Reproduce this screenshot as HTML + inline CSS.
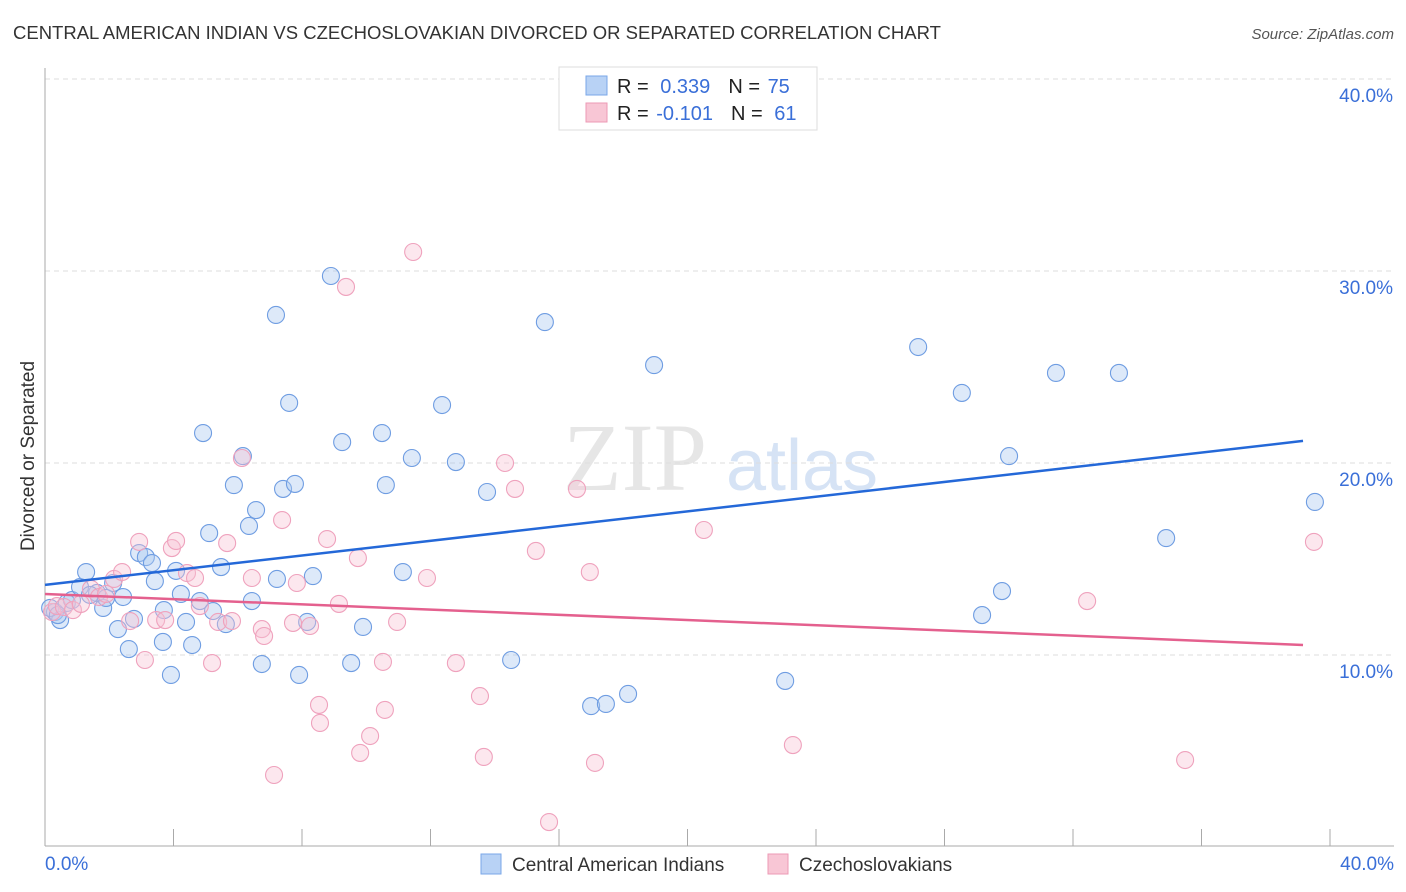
<!DOCTYPE html>
<html><head><meta charset="utf-8"><style>
body{margin:0;background:#fff;font-family:"Liberation Sans",sans-serif;}
#c{position:relative;width:1406px;height:892px;overflow:hidden}
</style></head><body>
<div id="c">
<svg id="s" width="1406" height="892" xmlns="http://www.w3.org/2000/svg">
<text x="13" y="39" font-size="18.5" fill="#333">CENTRAL AMERICAN INDIAN VS CZECHOSLOVAKIAN DIVORCED OR SEPARATED CORRELATION CHART</text>
<text x="1394" y="39" font-size="15" fill="#555" font-style="italic" text-anchor="end">Source: ZipAtlas.com</text>
<text x="0" y="0" transform="translate(34,456) rotate(-90)" font-size="19" fill="#333" text-anchor="middle">Divorced or Separated</text>
<g><text x="635" y="490" font-size="96" fill="#e6e6e6" font-family="Liberation Serif,serif" text-anchor="middle">ZIP</text><text x="802" y="490" font-size="72" fill="#d6e3f5" text-anchor="middle">atlas</text></g>
<g id="grid"></g><g id="axes"></g><g id="pts"></g><g id="trend"></g>
<g>
<rect x="559" y="67" width="258" height="63" fill="#fff" stroke="#ddd"/>
<rect x="586" y="76" width="21" height="19" fill="#b8d2f5" stroke="#7aa7e8"/>
<rect x="586" y="103" width="21" height="19" fill="#f8c6d5" stroke="#ec9ab5"/>
<text x="617" y="93" font-size="20" fill="#222">R = <tspan fill="#3a6fd8" dx="6">0.339</tspan><tspan dx="18" fill="#222">N = </tspan><tspan fill="#3a6fd8" dx="2">75</tspan></text>
<text x="617" y="120" font-size="20" fill="#222">R = <tspan fill="#3a6fd8" dx="2">-0.101</tspan><tspan dx="18" fill="#222">N = </tspan><tspan fill="#3a6fd8" dx="6">61</tspan></text>
</g>
<g>
<rect x="481" y="854" width="20" height="20" fill="#b8d2f5" stroke="#7aa7e8"/>
<text x="512" y="871" font-size="19" fill="#333">Central American Indians</text>
<rect x="768" y="854" width="20" height="20" fill="#f8c6d5" stroke="#ec9ab5"/>
<text x="799" y="871" font-size="19" fill="#333">Czechoslovakians</text>
</g>
</svg>
</div>
<script>
const yTicks=[10,20,30,40];
const yTickLabels=["10.0%","20.0%","30.0%","40.0%"];
const xTicks=[0,4,8,12,16,20,24,28,32,36,40];
const xTickLabels=["0.0%","40.0%"];
const blueX=[0.31,0.47,0.68,0.84,1.09,1.28,1.62,1.81,1.90,2.12,2.27,2.43,2.61,2.77,2.93,3.14,3.33,3.42,3.70,3.67,3.92,4.08,4.23,4.39,4.58,4.82,4.92,5.11,5.23,5.48,5.63,5.88,6.16,6.35,6.44,6.57,6.75,7.19,7.22,7.41,7.60,7.78,7.91,8.34,8.16,8.90,9.25,9.53,9.90,10.49,10.61,11.14,11.42,12.36,12.79,13.76,14.51,15.56,17.00,17.46,18.15,18.96,23.04,27.18,28.54,29.17,29.79,30.01,31.47,33.43,34.90,39.53,0.16,0.40,1.40];
const blueY=[12.24,11.82,12.71,12.86,13.54,14.32,13.23,12.45,12.97,13.75,11.35,13.02,10.31,11.88,15.31,15.10,14.79,13.85,12.34,10.68,8.96,14.38,13.18,11.72,10.52,12.81,21.56,16.35,12.29,14.58,11.61,18.85,20.36,16.72,12.81,17.55,9.53,27.71,13.96,18.65,23.13,18.91,8.96,14.11,11.72,29.74,21.09,9.58,11.46,21.56,18.85,14.32,20.26,23.02,20.05,18.49,9.74,27.34,7.34,7.45,7.97,25.10,8.65,26.04,23.65,12.08,13.33,20.36,24.69,24.69,16.09,17.97,12.45,12.08,13.13];
const pinkX=[0.22,0.37,0.59,0.87,1.12,1.43,1.68,1.90,2.15,2.40,2.65,2.93,3.11,3.46,3.74,3.95,4.08,4.42,4.67,4.82,5.20,5.39,5.67,5.82,6.13,6.44,6.75,6.82,7.13,7.38,7.72,7.84,8.25,8.78,8.53,8.56,9.15,9.37,9.74,9.81,10.12,10.52,10.58,10.96,11.46,11.89,12.79,13.54,13.66,14.32,14.63,15.28,15.69,16.56,16.96,17.12,20.51,23.28,32.44,35.49,39.50];
const pinkY=[12.24,12.55,12.50,12.34,12.66,13.44,13.02,13.18,13.96,14.32,11.77,15.89,9.74,11.82,11.82,15.57,15.94,14.27,14.01,12.55,9.58,11.72,15.83,11.77,20.26,14.01,11.35,10.99,3.75,17.03,11.67,13.75,11.51,16.04,7.40,6.46,12.66,29.17,15.05,4.90,5.78,9.64,7.14,11.72,30.99,14.01,9.58,7.86,4.69,20.00,18.65,15.42,1.30,18.65,14.32,4.38,16.51,5.31,12.81,4.53,15.89];
const blueTrendX=[0,39.16], blueTrendY=[13.65,21.15];
const pinkTrendX=[0,39.16], pinkTrendY=[13.18,10.52];

const NS="http://www.w3.org/2000/svg";
const X=v=>45+v*32.125, Y=v=>847-v*19.2;
function mk(t,a,p){const e=document.createElementNS(NS,t);for(const k in a)e.setAttribute(k,a[k]);p.appendChild(e);return e;}
const grid=document.getElementById('grid'),axes=document.getElementById('axes'),pts=document.getElementById('pts'),tr=document.getElementById('trend');
yTicks.forEach((t,i)=>{
 const l=mk('line',{x1:45,x2:1394,y1:Y(t),y2:Y(t),stroke:'#ddd','stroke-dasharray':'5,4'},grid);
 
 
 const tx=mk('text',{x:1393,y:Y(t)+23,'font-size':19,fill:'#3a6fd8','text-anchor':'end'},grid);
 tx.textContent=yTickLabels[i];
 
 
});
const ya=mk('line',{x1:45,x2:45,y1:68,y2:846,stroke:'#aaa'},axes);


const xa=mk('line',{x1:45,x2:1394,y1:846,y2:846,stroke:'#aaa'},axes);


xTicks.forEach(t=>{
 const l=mk('line',{x1:X(t),x2:X(t),y1:829,y2:846,stroke:'#aaa'},axes);
 
 
});
[[0,'start',45],[40,'end',1394]].forEach((d,i)=>{
 const tx=mk('text',{x:d[2],y:870,'font-size':19,fill:'#3a6fd8','text-anchor':d[1]},axes);
 tx.textContent=xTickLabels[i];
 
 
});
blueX.forEach((v,i)=>{
 const c=mk('circle',{cx:X(v),cy:Y(blueY[i]),r:8.5,fill:'rgba(170,200,240,0.4)',stroke:'#6f9de2','stroke-width':1.1},pts);
 
 
});
pinkX.forEach((v,i)=>{
 const c=mk('circle',{cx:X(v),cy:Y(pinkY[i]),r:8.5,fill:'rgba(248,195,212,0.4)',stroke:'#efa2bd','stroke-width':1.1},pts);
 
 
});
const bt=mk('line',{x1:X(blueTrendX[0]),y1:Y(blueTrendY[0]),x2:X(blueTrendX[1]),y2:Y(blueTrendY[1]),stroke:'#2468d8','stroke-width':2.5},tr);


const pt=mk('line',{x1:X(pinkTrendX[0]),y1:Y(pinkTrendY[0]),x2:X(pinkTrendX[1]),y2:Y(pinkTrendY[1]),stroke:'#e4608e','stroke-width':2.5},tr);


</script>
</body></html>
